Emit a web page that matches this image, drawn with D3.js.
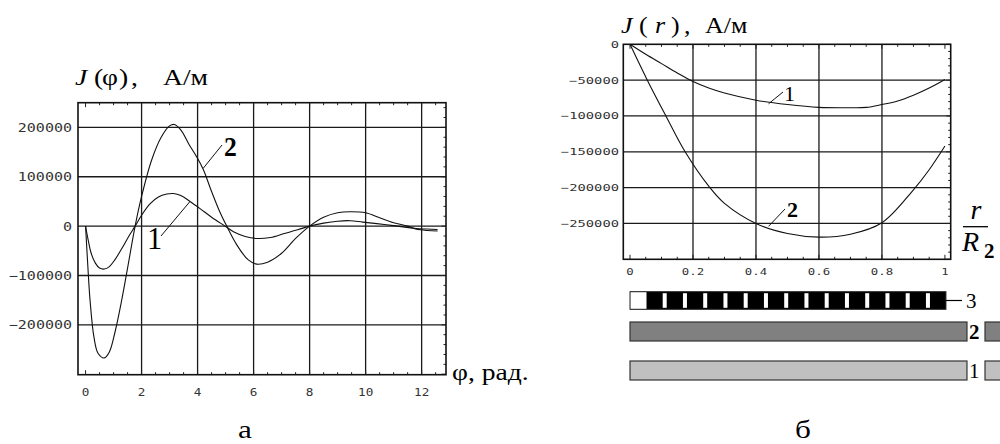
<!DOCTYPE html>
<html>
<head>
<meta charset="utf-8">
<script src="https://cdn.jsdelivr.net/npm/d3@7"></script>
<style>
  html,body{margin:0;padding:0;background:#fff;}
  svg{display:block;}
</style>
</head>
<body>
<div id="chart"></div>
<script>
// ---- data ----
// (а) J(φ), curves 1 and 2: [φ, J]
const phiCurve1 = [[0,0],[0.1,-30000],[0.2,-55000],[0.35,-75000],[0.5,-85000],[0.67,-87000],[0.85,-82000],[1.05,-68000],[1.3,-45000],[1.55,-20000],[1.77,0],[2.0,22000],[2.3,45000],[2.6,59000],[2.9,65000],[3.14,66000],[3.4,62000],[3.73,50000],[4.1,35000],[4.5,18000],[4.98,0],[5.3,-12000],[5.7,-21000],[6.11,-25000],[6.6,-23000],[7.1,-15000],[7.6,-7000],[8.0,0],[8.5,6000],[9.0,10000],[9.45,11000],[9.9,8000],[10.4,5000],[11.0,1000],[11.4,-2000],[11.8,-5000],[12.2,-6000],[12.57,-7000]];
const phiCurve2 = [[0,0],[0.08,-80000],[0.16,-150000],[0.3,-225000],[0.45,-258000],[0.67,-267000],[0.85,-255000],[1.05,-215000],[1.29,-150000],[1.5,-85000],[1.77,0],[2.0,60000],[2.36,134000],[2.7,180000],[3.0,203000],[3.17,206000],[3.4,195000],[3.7,165000],[3.97,140000],[4.2,115000],[4.5,70000],[4.8,28000],[5.04,0],[5.4,-38000],[5.8,-68000],[6.11,-77000],[6.5,-73000],[7.0,-55000],[7.5,-25000],[8.0,0],[8.5,18000],[9.0,27000],[9.45,29000],[10.0,27000],[10.5,17000],[11.0,7000],[11.5,0],[11.8,-6000],[12.2,-9000],[12.57,-10000]];
const phiXTicks = [0,2,4,6,8,10,12];
const phiYTicks = [200000,100000,0,-100000,-200000];

// (б) J(r), curves 1 and 2: [r/R2, J]
const rCurve1 = [[0,0],[0.05,-14000],[0.1,-27000],[0.15,-40000],[0.2,-52000],[0.25,-61000],[0.3,-68000],[0.4,-78000],[0.5,-84000],[0.6,-88000],[0.7,-88500],[0.75,-88000],[0.8,-84000],[0.85,-79000],[0.9,-71000],[0.95,-61000],[1.0,-49000]];
const rCurve2 = [[0,0],[0.055,-50000],[0.114,-100000],[0.175,-150000],[0.25,-198000],[0.3,-222000],[0.4,-250000],[0.5,-264000],[0.6,-269000],[0.7,-265000],[0.8,-249000],[0.9,-203000],[0.95,-175000],[1.0,-142000]];
const rXTicks = [0,0.2,0.4,0.6,0.8,1];
const rXLabels = ['0','0.2','0.4','0.6','0.8','1'];
const rYTicks = [0,-50000,-100000,-150000,-200000,-250000];
const layerLabels = ['3','2','1'];

const W=1000, H=444;
const svg=d3.select('#chart').append('svg').attr('width',W).attr('height',H);
const SERIF='"Liberation Serif","Times New Roman",serif';
const MONO='"DejaVu Sans Mono","Liberation Mono",monospace';

function txt(g,x,y,s,o={}){
  return g.append('text')
    .attr('transform',`translate(${x},${y}) scale(${o.sx||1},${o.sy||1})`)
    .attr('text-anchor',o.anchor||'start')
    .attr('font-family',o.family||SERIF)
    .attr('font-size',o.size||20)
    .attr('font-style',o.italic?'italic':'normal')
    .attr('font-weight',o.bold?'bold':'normal')
    .attr('fill',o.fill||'#000')
    .text(s);
}

function frameTicks(g,x,y,step,yStep,lenMajor,majorEvery,yMajorEvery){
  const [x0,x1]=x.range(), [y0,y1]=y.range();
  const xd=x.domain(), yd=y.domain();
  // bottom + top
  for(let v=Math.ceil(xd[0]/step)*step; v<=xd[1]+1e-9; v+=step){
    const k=Math.round(v/step), major=k%majorEvery===0, L=major?lenMajor:2.5;
    const px=x(v);
    g.append('line').attr('x1',px).attr('x2',px).attr('y1',y0).attr('y2',y0-L);
    g.append('line').attr('x1',px).attr('x2',px).attr('y1',y1).attr('y2',y1+L);
  }
  // right
  for(let v=Math.ceil(yd[0]/yStep)*yStep; v<=yd[1]+1e-9; v+=yStep){
    const k=Math.round(v/yStep), major=k%yMajorEvery===0, L=major?lenMajor:2.5;
    const py=y(v);
    g.append('line').attr('x1',x1).attr('x2',x1-L).attr('y1',py).attr('y2',py);
  }
}

function panel(opt){
  const {x,y}=opt;
  const g=svg.append('g');
  const [x0,x1]=x.range(), [y0,y1]=y.range();
  // grid
  const grid=g.append('g').attr('stroke','#1a1a1a').attr('stroke-width',1.3);
  opt.xGrid.forEach(v=>grid.append('line').attr('x1',x(v)).attr('x2',x(v)).attr('y1',y0).attr('y2',y1));
  opt.yGrid.forEach(v=>grid.append('line').attr('x1',x0).attr('x2',x1).attr('y1',y(v)).attr('y2',y(v)));
  // ticks
  const tk=g.append('g').attr('stroke','#222').attr('stroke-width',1);
  frameTicks(tk,x,y,opt.xStep,opt.yStep,4.5,opt.xMajor,opt.yMajor);
  // curves
  const line=d3.line().x(d=>x(d[0])).y(d=>y(d[1])).curve(d3.curveCatmullRom.alpha(0.5));
  opt.curves.forEach(c=>g.append('path').attr('d',line(c)).attr('fill','none').attr('stroke','#111').attr('stroke-width',1.1));
  // frame
  g.append('rect').attr('x',x0).attr('y',y1).attr('width',x1-x0).attr('height',y0-y1)
    .attr('fill','none').attr('stroke','#111').attr('stroke-width',1.6);
  return g;
}

// ===== panel а =====
const xL=d3.scaleLinear().domain([-0.27,12.87]).range([78,446]);
const yL=d3.scaleLinear().domain([-301000,250000]).range([374.7,102.7]);
const gA=panel({x:xL,y:yL,xGrid:phiXTicks.filter(v=>v>0),yGrid:phiYTicks,
  xStep:0.5,yStep:20000,xMajor:4,yMajor:5,curves:[phiCurve1,phiCurve2]});
phiYTicks.forEach(v=>txt(gA,72,yL(v)+4.5,String(v).replace('-','\u2212'),{family:MONO,size:12,sx:1.25,anchor:'end',fill:'#333'}));
phiXTicks.forEach(v=>txt(gA,xL(v),yL.range()[0]+21,String(v),{family:MONO,size:11,sx:1.15,anchor:'middle',fill:'#333'}));
// title
[['J',75,true],['(',94],['\u03C6',102],[')',119],[',',131],['\u0410/\u043C',163]]
  .forEach(([s,x,it])=>txt(gA,x,85,s,{size:23,sx:1.2,italic:!!it}));
txt(gA,452,380,'\u03C6, \u0440\u0430\u0434.',{size:23,sx:1.2});
// curve labels
gA.append('line').attr('x1',xL(4.2)).attr('y1',yL(117000)).attr('x2',222).attr('y2',145).attr('stroke','#111');
txt(gA,224,156,'2',{size:27,bold:true,sx:0.95});
gA.append('line').attr('x1',xL(3.73)).attr('y1',yL(50000)).attr('x2',161).attr('y2',236).attr('stroke','#111');
txt(gA,147,249,'1',{size:32,sx:0.95});
txt(gA,245,438,'\u0430',{size:26,anchor:'middle',sx:1.2});

// ===== panel б =====
const xR=d3.scaleLinear().domain([-0.0213,1.0183]).range([623.3,950.7]);
const yR=d3.scaleLinear().domain([-300000,0]).range([259.3,44.3]);
const gB=panel({x:xR,y:yR,xGrid:rXTicks.filter(v=>v>0&&v<1),yGrid:rYTicks.filter(v=>v<0),
  xStep:0.05,yStep:10000,xMajor:4,yMajor:5,curves:[rCurve1,rCurve2]});
rYTicks.forEach(v=>txt(gB,619,yR(v)+3.5,String(v).replace('-','\u2212'),{family:MONO,size:9.5,sx:1.45,anchor:'end',fill:'#333'}));
rXTicks.forEach((v,i)=>txt(gB,xR(v),275,rXLabels[i],{family:MONO,size:9.5,sx:1.3,anchor:'middle',fill:'#333'}));
// title
[['J',621,true],['(',639],['r',655,true],[')',671],[',',684],['\u0410/\u043C',705]]
  .forEach(([s,x,it])=>txt(gB,x,33,s,{size:24,sx:1.08,italic:!!it}));
// r / R2
txt(gB,976,219,'r',{size:28,italic:true,anchor:'middle'});
gB.append('line').attr('x1',963).attr('x2',988).attr('y1',226.7).attr('y2',226.7).attr('stroke','#000').attr('stroke-width',1.3);
txt(gB,962,251,'R',{size:28,italic:true});
txt(gB,984,258,'2',{size:21,bold:true});
// curve labels
gB.append('line').attr('x1',xR(0.44)).attr('y1',yR(-83000)).attr('x2',783).attr('y2',92).attr('stroke','#111');
txt(gB,784,101,'1',{size:22});
gB.append('line').attr('x1',xR(0.44)).attr('y1',yR(-254000)).attr('x2',785).attr('y2',209).attr('stroke','#111');
txt(gB,787,217,'2',{size:22,bold:true});

// layer bars
const barY=[291.7,322,361], barH=[17.6,19,19];
const gC=svg.append('g');
// layer 3: striped
gC.append('rect').attr('x',xR(0)).attr('y',barY[0]).attr('width',xR(1)-xR(0)+1).attr('height',barH[0]).attr('fill','#000').attr('stroke','#222');
gC.append('rect').attr('x',xR(0)+0.5).attr('y',barY[0]+0.5).attr('width',16).attr('height',barH[0]-1).attr('fill','#fff');
d3.range(14).forEach(i=>gC.append('rect').attr('x',662.7+i*20.25).attr('y',barY[0]+1.5).attr('width',4).attr('height',barH[0]-3).attr('fill','#fff'));
gC.append('line').attr('x1',xR(1)+1).attr('x2',962).attr('y1',barY[0]+barH[0]/2).attr('y2',barY[0]+barH[0]/2).attr('stroke','#000').attr('stroke-width',1.2);
// layers 2 and 1
[['#808080',1],['#c0c0c0',2]].forEach(([f,i])=>{
  gC.append('rect').attr('x',xR(0)).attr('y',barY[i]).attr('width',xR(1.07)-xR(0)).attr('height',barH[i]).attr('fill',f).attr('stroke','#333').attr('stroke-width',1.2);
  gC.append('rect').attr('x',985).attr('y',barY[i]).attr('width',30).attr('height',barH[i]).attr('fill',f).attr('stroke','#333').attr('stroke-width',1.2);
});
layerLabels.forEach((s,i)=>txt(gC,i===0?966:969,barY[i]+barH[i]/2+7.5,s,{size:21,bold:i===1}));
txt(gC,803,438,'\u0431',{size:26,anchor:'middle',sx:1.2});
</script>
</body>
</html>
